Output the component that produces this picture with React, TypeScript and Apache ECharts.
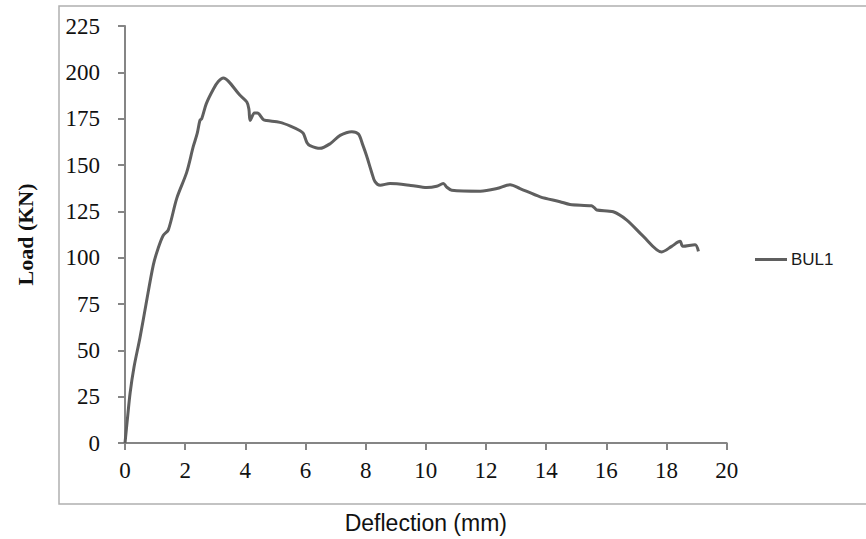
import React, { useEffect, useRef } from "react";
import * as echarts from "echarts";

const seriesName = "BUL1";
const deflection = [
  0, 0.08, 0.17, 0.3, 0.5, 0.7, 0.94, 1.1, 1.27, 1.44, 1.72, 2.05, 2.27, 2.4, 2.49, 2.55,
  2.7, 2.94, 3.1, 3.27, 3.45, 3.8, 4.05, 4.12, 4.16, 4.3, 4.4, 4.6, 4.71, 5.15, 5.5, 5.82,
  5.93, 6.05, 6.15, 6.48, 6.82, 7.15, 7.54, 7.76, 7.9, 8.03, 8.2, 8.31, 8.48, 8.81, 9.5,
  10.03, 10.36, 10.58, 10.7, 10.86, 11.81, 12.36, 12.8, 13.13, 13.8, 14.46, 14.79, 15.5,
  15.6, 15.68, 16.23, 16.68, 17.23, 17.84, 18.17, 18.45, 18.54, 18.95, 19.06,
];
const load = [
  0, 13, 27, 41, 57, 75, 96, 105, 112, 115, 132, 146, 160, 167, 174, 175,
  183, 191, 195, 197, 195, 188, 184, 180, 174, 178, 178, 174.5, 174, 173, 171, 168.5,
  167, 162, 160.5, 159, 161.5, 166, 168, 166.7, 161, 155, 146, 141, 139.1, 140, 139,
  137.8, 138.5, 140, 138, 136.4, 135.9, 137.3, 139.4, 137.3, 132.8, 130.2, 128.7, 128,
  127, 125.7, 124.8, 120.3, 111.5, 103.1, 106.1, 108.8, 106.1, 107, 103.4,
];
const xTitle = "Deflection (mm)";
const yTitle = "Load (KN)";

export default function App() {
  const ref = useRef<HTMLDivElement>(null);
  useEffect(() => {
    if (!ref.current) return;
    const chart = echarts.init(ref.current, null, { renderer: "svg" });
    const axisLine = { show: true, lineStyle: { color: "#858585", width: 2 } };
    chart.setOption({
      animation: false,
      backgroundColor: "#ffffff",
      graphic: [
        {
          type: "rect",
          shape: { x: 59, y: 6, width: 820, height: 498 },
          style: { fill: "none", stroke: "#b0b0b0", lineWidth: 1.5 },
          z: -1,
        },
      ],
      grid: { left: 125, right: 139.3, top: 26, bottom: 92.3 },
      legend: {
        data: [{ name: seriesName, icon: "rect" }],
        left: 750,
        top: 246,
        itemWidth: 32,
        itemHeight: 3,
        itemStyle: { color: "#5f5f5f" },
        textStyle: { fontFamily: "Liberation Sans", fontSize: 17, color: "#1a1a1a", padding: [0, 0, 0, -1] },
      },
      xAxis: {
        type: "value",
        min: 0,
        max: 20,
        interval: 2,
        name: xTitle,
        nameLocation: "middle",
        nameGap: 68,
        nameTextStyle: { fontFamily: "Liberation Sans", fontSize: 23, color: "#111" },
        axisLine,
        axisTick: { show: true, length: 7, lineStyle: { color: "#858585", width: 2 } },
        splitLine: { show: false },
        axisLabel: { margin: 16, fontFamily: "Liberation Serif", fontSize: 23, color: "#111" },
      },
      yAxis: {
        type: "value",
        min: 0,
        max: 225,
        interval: 25,
        name: yTitle,
        nameLocation: "middle",
        nameGap: 89,
        nameTextStyle: {
          fontFamily: "Liberation Serif",
          fontWeight: "bold",
          fontSize: 22,
          color: "#111",
        },
        axisLine,
        axisTick: { show: true, length: 7, lineStyle: { color: "#858585", width: 2 } },
        splitLine: { show: false },
        axisLabel: { margin: 25, fontFamily: "Liberation Serif", fontSize: 23, color: "#111" },
      },
      series: [
        {
          name: seriesName,
          type: "line",
          data: deflection.map((x, i) => [x, load[i]]),
          showSymbol: false,
          symbol: "none",
          smooth: 0.3,
          lineStyle: { color: "#5f5f5f", width: 3 },
          itemStyle: { color: "#5f5f5f" },
        },
      ],
    });
    return () => chart.dispose();
  }, []);
  return (
    <div
      ref={ref}
      style={{ position: "fixed", left: 0, top: 0, width: 866, height: 539, background: "#fff" }}
    />
  );
}
